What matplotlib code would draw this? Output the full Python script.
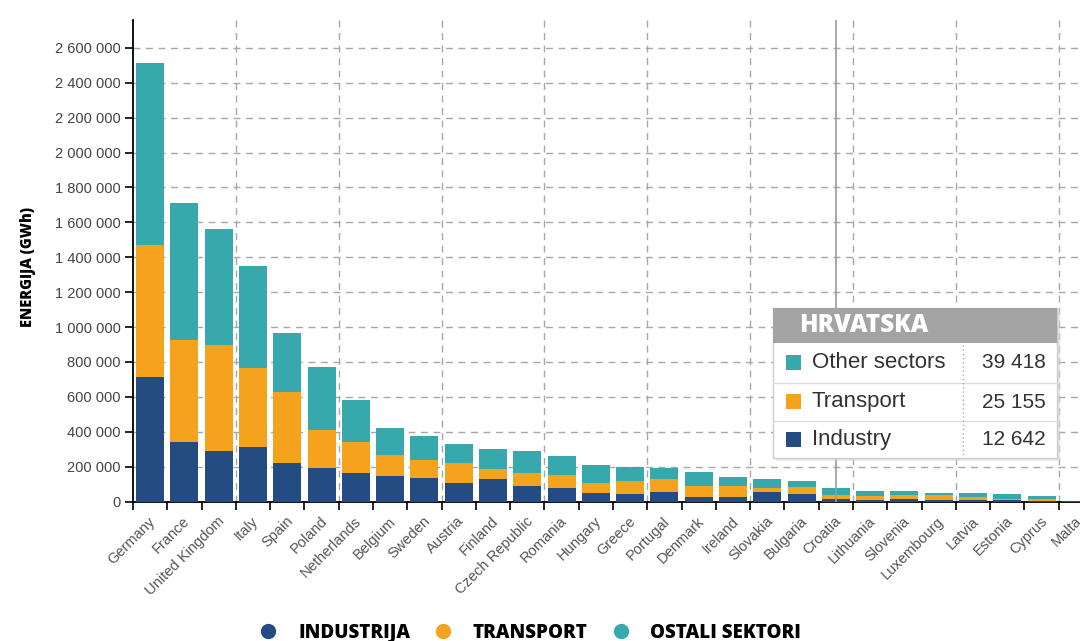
import matplotlib
matplotlib.use("Agg")
import matplotlib.pyplot as plt
import numpy as np
from matplotlib.lines import Line2D
from matplotlib.patches import Rectangle
from matplotlib.ticker import FuncFormatter, MultipleLocator

countries = ["Germany", "France", "United Kingdom", "Italy", "Spain", "Poland",
             "Netherlands", "Belgium", "Sweden", "Austria", "Finland",
             "Czech Republic", "Romania", "Hungary", "Greece", "Portugal",
             "Denmark", "Ireland", "Slovakia", "Bulgaria", "Croatia",
             "Lithuania", "Slovenia", "Luxembourg", "Latvia", "Estonia",
             "Cyprus", "Malta"]
industry = [715000, 339000, 291000, 311000, 219000, 190000, 165000, 148000,
            136000, 108000, 127000, 89000, 76000, 47000, 41000, 56000,
            28000, 28000, 56000, 41000, 12642, 10000, 13000, 7000, 9000,
            7000, 3000, 400]
transport = [755000, 586000, 606000, 452000, 410000, 220000, 178000, 118000,
             102000, 111000, 58000, 76000, 76000, 61000, 78000, 71000,
             61000, 61000, 24000, 40000, 25155, 20000, 22000, 33000, 14000,
             10000, 14000, 1800]
other = [1041000, 784000, 665000, 586000, 335000, 363000, 239000, 153000,
         139000, 109000, 114000, 124000, 109000, 101000, 81000, 63000,
         78000, 50000, 47000, 38000, 39418, 30000, 25000, 11000, 28000,
         24000, 13000, 1200]
series_names = ["INDUSTRIJA", "TRANSPORT", "OSTALI SEKTORI"]
tooltip_names = ["Other sectors", "Transport", "Industry"]
tooltip_title = "HRVATSKA"
highlight = "Croatia"
y_label = "ENERGIJA (GWh)"

c_ind = "#244c82"
c_tr = "#f5a21e"
c_ot = "#37a8ab"

W, H = 1080, 641
fig = plt.figure(figsize=(W / 100, H / 100), dpi=100)
fig.patch.set_facecolor("white")

def fx(px):
    return px / W

def fy(py):
    return (H - py) / H

ax_left, ax_right, ax_bottom, ax_top = 133, 1093, 501.5, 20
ax = fig.add_axes([fx(ax_left), fy(ax_bottom), fx(ax_right - ax_left),
                   (ax_bottom - ax_top) / H])

n = len(countries)
x = np.arange(n) + 0.5
ind = np.array(industry)
tr = np.array(transport)
ot = np.array(other)
bw = 0.82
ax.bar(x, ind, bw, color=c_ind, zorder=3, linewidth=0)
ax.bar(x, tr, bw, bottom=ind, color=c_tr, zorder=3, linewidth=0)
ax.bar(x, ot, bw, bottom=ind + tr, color=c_ot, zorder=3, linewidth=0)

ax.set_xlim(0, n)
ax.set_ylim(0, 2760000)

# grid
ax.yaxis.set_major_locator(MultipleLocator(200000))
ax.yaxis.set_major_formatter(FuncFormatter(lambda v, p: f"{int(v):,}".replace(",", " ")))
for v in np.arange(200000, 2700000, 200000):
    ax.axhline(v, color="#a8a8a8", lw=1, ls=(0, (5, 4)), zorder=1)
for b in range(3, n, 3):
    ax.axvline(b, color="#a8a8a8", lw=1, ls=(0, (5, 4)), zorder=1)

# hover line
hi = countries.index(highlight)
ax.axvline(x[hi], color="#9a9a9a", lw=1.2, zorder=4)

ax.set_xticks(np.arange(0, n + 1))
ax.set_xticklabels([])
ax.set_xticks(x - 0.05, minor=True)
ax.set_xticklabels(countries, minor=True, rotation=45, ha="right",
                   rotation_mode="anchor", color="#555555",
                   fontsize=10.5, family="Liberation Sans")
ax.tick_params(axis="x", which="minor", length=0, pad=9)
ax.tick_params(axis="x", which="major", length=6, width=1.2, color="black")
ax.tick_params(axis="y", length=6, width=1.2, color="black",
               labelsize=10.5, labelcolor="#444444", pad=3)
for lab in ax.get_yticklabels():
    lab.set_family("Liberation Sans")

for s in ["top", "right"]:
    ax.spines[s].set_visible(False)
ax.spines["left"].set_linewidth(1.3)
ax.spines["bottom"].set_linewidth(1.3)

fig.text(fx(28), fy(267), y_label, rotation=90, ha="center", va="center",
         fontsize=10.5, fontweight=800, family="Open Sans", color="black")

# legend
handles = [Line2D([], [], ls="", marker="o", markersize=10, color=c)
           for c in (c_ind, c_tr, c_ot)]
leg = fig.legend(handles, series_names, loc="center", ncol=3,
                 bbox_to_anchor=(fx(530), fy(633)), frameon=False,
                 prop={"family": "Open Sans", "weight": 800, "size": 13.5},
                 handletextpad=1.1, columnspacing=1.25, handlelength=1.0)

# tooltip
tl, tr_, tt, tb = 773, 1057, 308, 458
shadow = Rectangle((fx(tl + 3), fy(tb + 3)), fx(tr_ - tl), (tb - tt) / H,
                   transform=fig.transFigure, facecolor="#d8d8d8",
                   edgecolor="none", zorder=9, alpha=0.6)
fig.add_artist(shadow)
box = Rectangle((fx(tl), fy(tb)), fx(tr_ - tl), (tb - tt) / H,
                transform=fig.transFigure, facecolor="white",
                edgecolor="#cccccc", lw=1, zorder=10)
fig.add_artist(box)
head = Rectangle((fx(tl), fy(343)), fx(tr_ - tl), (343 - tt) / H,
                 transform=fig.transFigure, facecolor="#a3a3a3",
                 edgecolor="none", zorder=11)
fig.add_artist(head)
fig.text(fx(799), fy(326), tooltip_title, color="white", fontsize=17.5,
         fontweight=800, family="Open Sans", va="center", ha="left",
         zorder=12)
rows = [(tooltip_names[0], ot[hi], c_ot), (tooltip_names[1], tr[hi], c_tr),
        (tooltip_names[2], ind[hi], c_ind)]
row_edges = [343, 383, 421, 458]
for i, (name, val, col) in enumerate(rows):
    y0, y1 = row_edges[i], row_edges[i + 1]
    yc = (y0 + y1) / 2
    if i > 0:
        fig.add_artist(Line2D([fx(tl), fx(tr_)], [fy(y0), fy(y0)],
                              transform=fig.transFigure, color="#dddddd",
                              lw=1, zorder=12))
    sq = Rectangle((fx(786), fy(yc + 7)), fx(15), 15 / H,
                   transform=fig.transFigure, facecolor=col,
                   edgecolor="none", zorder=12)
    fig.add_artist(sq)
    fig.text(fx(812), fy(yc), name, fontsize=16, family="Liberation Sans",
             color="#333333", va="center", ha="left", zorder=12)
    fig.text(fx(1046), fy(yc), f"{int(val):,}".replace(",", " "),
             fontsize=15, family="Liberation Sans", color="#333333",
             va="center", ha="right", zorder=12)
fig.add_artist(Line2D([fx(963), fx(963)], [fy(345), fy(457)],
                      transform=fig.transFigure, color="#aaaaaa", lw=1,
                      ls=(0, (1, 2)), zorder=12))

fig.savefig("out.png", dpi=100)
